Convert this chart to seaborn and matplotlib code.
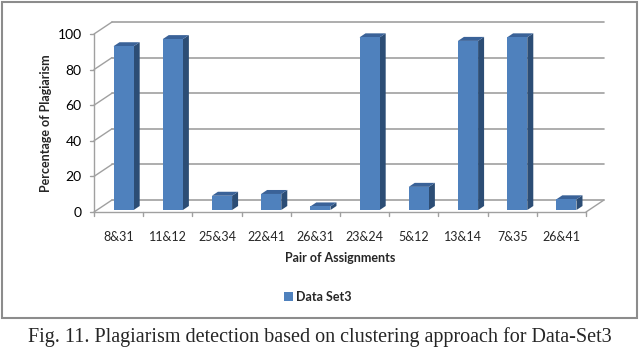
import matplotlib
matplotlib.use("Agg")
import matplotlib.pyplot as plt
from matplotlib.patches import Polygon, Rectangle
from matplotlib.lines import Line2D
from matplotlib.transforms import ScaledTranslation, IdentityTransform
import numpy as np
import pandas as pd
import seaborn as sns

# data
pairs = ["8&31", "11&12", "25&34", "22&41", "26&31",
         "23&24", "5&12", "13&14", "7&35", "26&41"]
plagiarism = [92, 96, 8, 9, 2, 97, 13, 95, 97, 6]
series_name = "Data Set3"
y_ticks = [0, 20, 40, 60, 80, 100]

FRONT = "#4F81BD"
TOP = "#3A6298"
SIDE = "#2C4D75"
GRID = "#A0A0A0"

sns.set_style("white")
plt.rcParams["font.family"] = ["Lato", "DejaVu Sans"]

df = pd.DataFrame({"pair": pairs, "value": plagiarism, "series": series_name})

fig = plt.figure(figsize=(6.4, 3.48), dpi=100)
ax = fig.add_axes([94 / 640, 1 - 212 / 348, 492 / 640, 178 / 348])

sns.barplot(data=df, x="pair", y="value", hue="series", palette=[FRONT],
            width=0.41, dodge=False, saturation=1, ax=ax, legend=True,
            linewidth=0, edgecolor=FRONT)

ax.set_xlim(-0.5, len(pairs) - 0.5)
ax.set_ylim(0, 100)
for s in ax.spines.values():
    s.set_visible(False)
ax.set_yticks(y_ticks)
ax.tick_params(axis="y", length=0, labelsize=10, pad=9, colors="#000000")
ax.tick_params(axis="x", length=0, labelsize=9, pad=14)
ax.set_ylabel("Percentage of Plagiarism", fontsize=9, fontweight="bold", labelpad=4)
ax.set_xlabel("Pair of Assignments", fontsize=9, fontweight="bold", labelpad=6)

# 3d look: offsets in pixels (display y goes up)
back_dx, back_dy = 18, 12
bar_dx, bar_dy = 5, 2
side_dx, side_dy = 6, 4

fig.canvas.draw()
td = ax.transData
ident = IdentityTransform()
x0, x1 = -0.5, len(pairs) - 0.5


def disp(x, y, dx=0, dy=0):
    p = td.transform((x, y))
    return (p[0] + dx, p[1] + dy)


def line(pts, **kw):
    xs, ys = zip(*pts)
    ax.add_line(Line2D(xs, ys, transform=ident, clip_on=False, **kw))


# back wall gridlines + left wall diagonals
for v in y_ticks:
    line([disp(x0, v, back_dx, back_dy), disp(x1, v, back_dx, back_dy)],
         color=GRID, lw=1.2, zorder=0)
    line([disp(x0, v), disp(x0, v, back_dx, back_dy)], color=GRID, lw=1, zorder=0)
    # y tick marks on front axis
    line([disp(x0, v, -4, 0), disp(x0, v)], color=GRID, lw=1, zorder=0)

# front y axis, floor front edge, right floor edge
line([disp(x0, 0), disp(x0, 100)], color=GRID, lw=1, zorder=0)
line([disp(x0, 0), disp(x1, 0)], color=GRID, lw=1, zorder=0)
line([disp(x1, 0), disp(x1, 0, back_dx, back_dy)], color=GRID, lw=1, zorder=0)
for b in np.arange(x0, x1 + 0.01, 1.0):
    line([disp(b, 0), disp(b, 0, 0, -4)], color=GRID, lw=1, zorder=0)

# bars: shift front faces, add side and top faces
shift = ScaledTranslation(bar_dx / 100, bar_dy / 100, fig.dpi_scale_trans)
for patch in ax.patches:
    if patch.get_height() <= 0 and patch.get_width() <= 0:
        continue
    bx, bw, bh = patch.get_x(), patch.get_width(), patch.get_height()
    patch.set_transform(td + shift)
    patch.set_zorder(3)
    br = disp(bx + bw, 0, bar_dx, bar_dy)
    tl = disp(bx, bh, bar_dx, bar_dy)
    tr = disp(bx + bw, bh, bar_dx, bar_dy)
    side = [br, tr, (tr[0] + side_dx, tr[1] + side_dy), (br[0] + side_dx, br[1] + side_dy)]
    top = [tl, tr, (tr[0] + side_dx, tr[1] + side_dy), (tl[0] + side_dx, tl[1] + side_dy)]
    ax.add_patch(Polygon(side, closed=True, facecolor=SIDE, edgecolor="none",
                         transform=ident, clip_on=False, zorder=2.9))
    ax.add_patch(Polygon(top, closed=True, facecolor=TOP, edgecolor="none",
                         transform=ident, clip_on=False, zorder=2.9))

# legend below the axis title
handles, labels = ax.get_legend_handles_labels()
ax.legend(handles, labels, loc="center", bbox_to_anchor=(318 / 640, 1 - 297 / 348),
          bbox_transform=fig.transFigure, frameon=False, handlelength=0.7,
          handleheight=0.7, handletextpad=0.3, prop={"size": 9, "weight": "bold"})

# outer chart border
fig.add_artist(Rectangle((1.5 / 640, 1 - 318 / 348), 635.5 / 640, 316 / 348,
                         transform=fig.transFigure, fill=False,
                         edgecolor="#8C8C8C", lw=1.5))

fig.text(0.5, 1 - 337 / 348,
         "Fig. 11. Plagiarism detection based on clustering approach for Data-Set3",
         ha="center", va="center", fontsize=14.5, family=["Liberation Serif"])

fig.savefig("out.png", dpi=100)
